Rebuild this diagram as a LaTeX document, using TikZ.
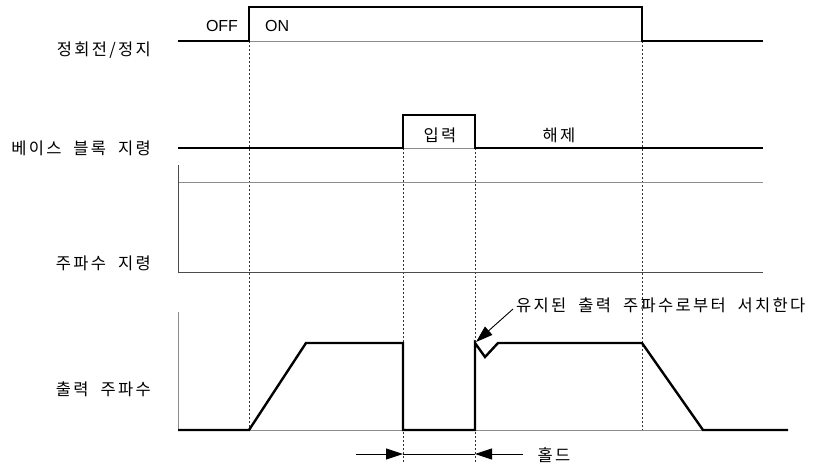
\documentclass[tikz,border=0pt]{standalone}
\usepackage{fontspec}
\setmainfont{Liberation Sans}
\newfontfamily\kr[WordSpace=2.0,LetterSpace=14]{Noto Sans CJK KR}
\usetikzlibrary{arrows.meta}
\tikzset{
  sig/.style={line width=2.4pt,line join=miter,black},
  thin/.style={line width=0.9pt,black!70},
  faint/.style={line width=0.9pt,black!45},
  guide/.style={line width=0.9pt,black!80,dash pattern=on 2pt off 2pt},
  lbl/.style={inner sep=0pt,font=\kr\fontsize{16.5pt}{19pt}\selectfont},
  latin/.style={inner sep=0pt,font=\fontsize{16pt}{18pt}\selectfont},
  tip/.style={-{Triangle[length=17pt,width=11pt]},line width=0.9pt},
}
\begin{document}
\begin{tikzpicture}[x=1pt,y=-1pt]
\useasboundingbox (0,0) rectangle (816,463);
% coordinates
\coordinate (t0) at (249,41);
\coordinate (t1) at (642,41);
\coordinate (b0) at (403,148);
\coordinate (b1) at (475,148);
% guides (dotted)
\draw[guide] (t0) -- (249,430);
\draw[guide] (t1) -- (642,430);
\draw[guide] (b0) -- (403,463);
\draw[guide] (b1) -- (475,463);
% run/stop signal
\draw[faint] (t0) -- (t1);
\draw[sig] (178,41) -- (t0) -- (249,7) -- (642,7) -- (t1) -- (763,41);
% base block
\draw[faint] (b0) -- (b1);
\draw[sig] (178,148) -- (b0) -- (403,115) -- (475,115) -- (b1) -- (763,148);
% frequency reference
\draw[faint] (178,182) -- (763,182);
\draw[thin] (178,165) -- (178,272) -- (763,272);
% output frequency
\draw[faint] (178,312) -- (178,430) -- (788,430);
\draw[sig] (178,430) -- (249,430) -- (306,343) -- (403,343) -- (403,430) -- (475,430)
  -- (475,343) -- (485,357) -- (498,343) -- (642,343) -- (703,430) -- (788,430);
% labels
\node[lbl,anchor=east] (l1) at (151,50) {정회전/정지};
\node[lbl,anchor=east] (l2) at (151,148) {베이스 블록 지령};
\node[lbl,anchor=east] (l3) at (151,263) {주파수 지령};
\node[lbl,anchor=east] (l4) at (151,389) {출력 주파수};
\node[latin] (off) at (222,26) {OFF};
\node[latin,anchor=west] (on) at (265,26) {ON};
\node[lbl] (inp) at (440,135) {입력};
\node[lbl] (rel) at (559,135) {해제};
\node[lbl,anchor=west] (srch) at (516,305) {유지된 출력 주파수로부터 서치한다};
\node[lbl] (hold) at (554,455) {홀드};
% search arrow
\coordinate (sa) at (513,309);
\coordinate (st) at (476,342);
\draw[tip] (sa) -- (st);
% hold arrows
\coordinate (h0) at (356,454);
\coordinate (h1) at (403,454);
\coordinate (h2) at (475,454);
\coordinate (h3) at (523,454);
\draw[line width=0.9pt] (h1) -- (h2);
\draw[tip] (h0) -- (h1);
\draw[tip] (h3) -- (h2);
\end{tikzpicture}
\end{document}
